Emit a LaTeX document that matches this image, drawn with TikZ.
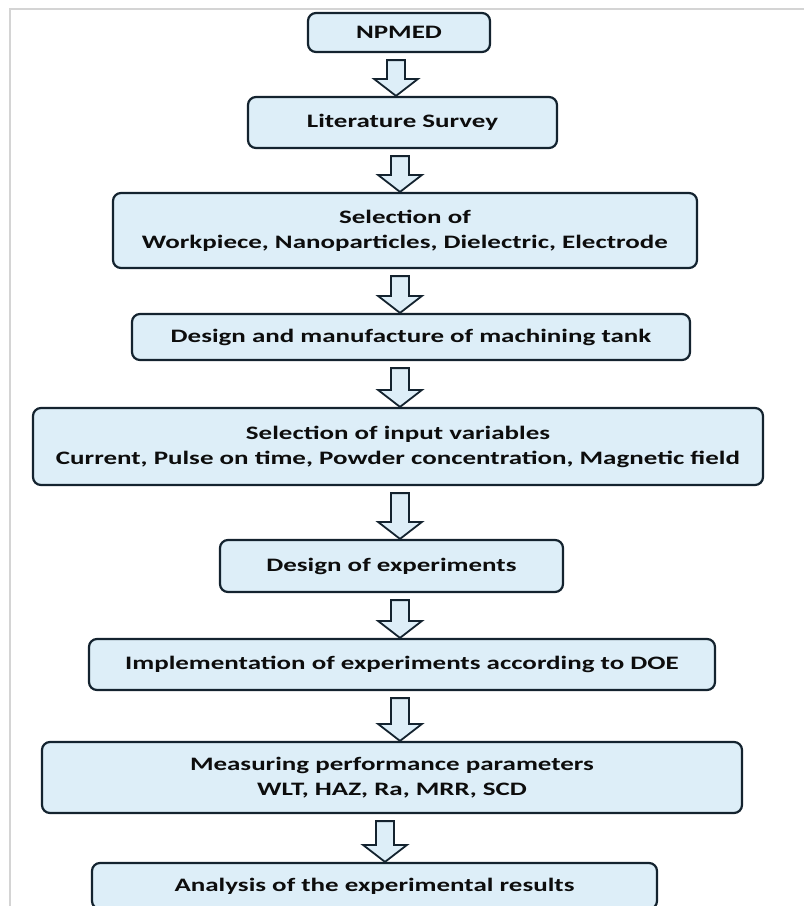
\documentclass[tikz,border=0pt]{standalone}
\usepackage{fontspec}
\setmainfont{Carlito}[FakeStretch=1.42]
\usetikzlibrary{calc}

\definecolor{boxfill}{HTML}{DDEEF8}
\definecolor{boxline}{HTML}{14232F}
\definecolor{framegray}{HTML}{D4D4D4}

% hollow block arrow from one stage down to the next, at a given x
\newcommand{\flowarrow}[3]{%
	\draw[blockarrow] let \p1=(#1.south), \p2=(#2.north) in
		({#3pt-9pt},{\y1-7pt}) -- ({#3pt+9pt},{\y1-7pt}) -- ({#3pt+9pt},{\y2+17pt})
		-- ({#3pt+22pt},{\y2+17pt}) -- ({#3pt},{\y2}) -- ({#3pt-22pt},{\y2+17pt})
		-- ({#3pt-9pt},{\y2+17pt}) -- cycle;}

\begin{document}
\begin{tikzpicture}[x=1pt,y=1pt,
	stage/.style={draw=boxline, line width=2.2pt, fill=boxfill, rounded corners=8pt,
		align=center, inner sep=0pt, text=black!95,
		font=\bfseries\fontsize{19}{25}\selectfont},
	blockarrow/.style={draw=boxline, line width=1.8pt, fill=boxfill}]
	\useasboundingbox (0,0) rectangle (804,-906);
	\clip (0,0) rectangle (804,-906);
	\draw[framegray, line width=2pt] (10,-906) -- (10,-9) -- (804,-9);

	\node[stage, minimum width=182, minimum height=39] (npmed) at (399,-32.5) {NPMED};
	\node[stage, minimum width=309, minimum height=51] (survey) at (402.5,-122.5) {Literature Survey};
	\node[stage, minimum width=584, minimum height=75] (select) at (405,-230.5) {Selection of\\Workpiece, Nanoparticles, Dielectric, Electrode};
	\node[stage, minimum width=558, minimum height=46] (tank) at (411,-337) {Design and manufacture of machining tank};
	\node[stage, minimum width=730, minimum height=77] (inputs) at (398,-446.5) {Selection of input variables\\Current, Pulse on time, Powder concentration, Magnetic field};
	\node[stage, minimum width=343, minimum height=52] (doe) at (391.5,-566) {Design of experiments};
	\node[stage, minimum width=626, minimum height=51] (runs) at (402,-664.5) {Implementation of experiments according to DOE};
	\node[stage, minimum width=700, minimum height=71] (measure) at (392,-777.5) {Measuring performance parameters\\WLT, HAZ, Ra, MRR, SCD};
	\node[stage, minimum width=565, minimum height=46] (analysis) at (374.5,-886) {Analysis of the experimental results};

	\flowarrow{npmed}{survey}{396}
	\flowarrow{survey}{select}{400}
	\flowarrow{select}{tank}{400}
	\flowarrow{tank}{inputs}{400}
	\flowarrow{inputs}{doe}{400}
	\flowarrow{doe}{runs}{400}
	\flowarrow{runs}{measure}{400}
	\flowarrow{measure}{analysis}{385}

\end{tikzpicture}
\end{document}
